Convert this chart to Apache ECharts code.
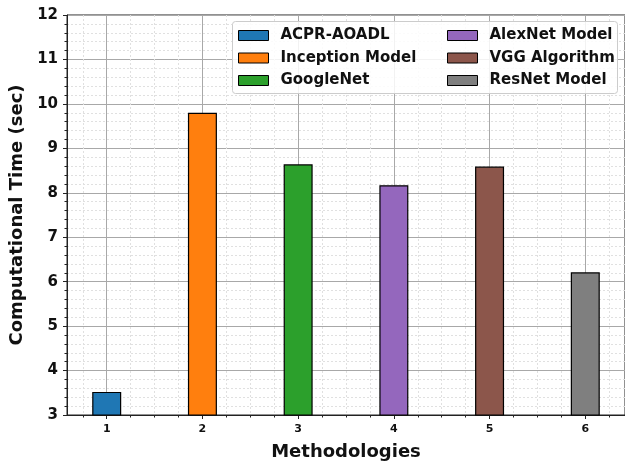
<!DOCTYPE html>
<html>
<head>
<meta charset="utf-8">
<script src="https://cdn.jsdelivr.net/npm/echarts@6/dist/echarts.min.js"></script>
<style>
  html, body { margin: 0; padding: 0; background: #fff; }
  #chart { width: 625px; height: 466px; }
</style>
</head>
<body>
<div id="chart"></div>
<script>
// values
const positions = [1, 2, 3, 4, 5, 6];
const methods = ['ACPR-AOADL', 'Inception Model', 'GoogleNet', 'AlexNet Model', 'VGG Algorithm', 'ResNet Model'];
const times = [3.52, 9.80, 8.64, 8.17, 8.59, 6.21];
const yTicks = [3, 4, 5, 6, 7, 8, 9, 10, 11, 12];

const palette = ['#1f77b4', '#ff7f0e', '#2ca02c', '#9467bd', '#8c564b', '#7f7f7f'];
const font = 'DejaVu Sans';

let chart = echarts.init(document.getElementById('chart'), null, { renderer: 'canvas' });

let series = methods.map((name, i) => ({
    name: name,
    type: 'bar',
    stack: 'all',
    barWidth: 29,
    data: [[positions[i], times[i]]],
    itemStyle: { color: palette[i], borderColor: '#000', borderWidth: 1.2 },
    emphasis: { disabled: true }
}));

let legendBase = {
    orient: 'vertical',
    top: 28,
    padding: 0,
    itemWidth: 30,
    itemHeight: 10,
    itemGap: 7.5,
    icon: 'rect',
    itemStyle: { borderColor: '#000', borderWidth: 1 },
    textStyle: { fontFamily: font, fontWeight: 'bold', fontSize: 15, color: '#111', padding: [0, 0, 0, 7] },
    selectedMode: false
};

let option = {
    animation: false,
    backgroundColor: '#fff',
    grid: {
        left: 67, right: -3, top: 15, bottom: 49,
        show: true, borderColor: '#222', borderWidth: 1
    },
    graphic: [{
        type: 'rect',
        z: 3,
        shape: { x: 232.5, y: 21.5, width: 385, height: 72, r: 3 },
        style: { fill: 'rgba(255,255,255,0.85)', stroke: '#cccccc', lineWidth: 1 }
    }],
    legend: [
        Object.assign({}, legendBase, { left: 238, data: methods.slice(0, 3) }),
        Object.assign({}, legendBase, { left: 447, data: methods.slice(3) })
    ],
    xAxis: {
        type: 'value',
        min: 0.585,
        max: 6.415,
        minInterval: 1,
        maxInterval: 1,
        name: 'Methodologies',
        nameLocation: 'middle',
        nameGap: 28,
        nameTextStyle: { fontFamily: font, fontWeight: 'bold', fontSize: 18, color: '#111', verticalAlign: 'top' },
        axisLine: { show: true, lineStyle: { color: '#222', width: 1 } },
        axisTick: { show: true, length: 4, lineStyle: { color: '#222' }, customValues: positions },
        minorTick: { show: true, splitNumber: 4, length: 2.5, lineStyle: { color: '#222' } },
        axisLabel: {
            customValues: positions,
            margin: 9,
            fontFamily: font, fontWeight: 'bold', fontSize: 11, color: '#111'
        },
        splitLine: { show: true, lineStyle: { color: '#a8a8a8', width: 1 } },
        minorSplitLine: { show: true, lineStyle: { color: '#e0e0e0', width: 1, type: [2, 2] } }
    },
    yAxis: {
        type: 'value',
        min: yTicks[0],
        max: yTicks[yTicks.length - 1],
        interval: 1,
        name: 'Computational Time (sec)',
        nameLocation: 'middle',
        nameGap: 39,
        nameTextStyle: { fontFamily: font, fontWeight: 'bold', fontSize: 18, color: '#111' },
        axisLine: { show: true, lineStyle: { color: '#222', width: 1 } },
        axisTick: { show: true, length: 4, lineStyle: { color: '#222' } },
        minorTick: { show: true, splitNumber: 5, length: 2.5, lineStyle: { color: '#222' } },
        axisLabel: { margin: 9, fontFamily: font, fontWeight: 'bold', fontSize: 15, color: '#111' },
        splitLine: { show: true, lineStyle: { color: '#a8a8a8', width: 1 } },
        minorSplitLine: { show: true, lineStyle: { color: '#e0e0e0', width: 1, type: [2, 2] } }
    },
    series: series
};

chart.setOption(option);
</script>
</body>
</html>
